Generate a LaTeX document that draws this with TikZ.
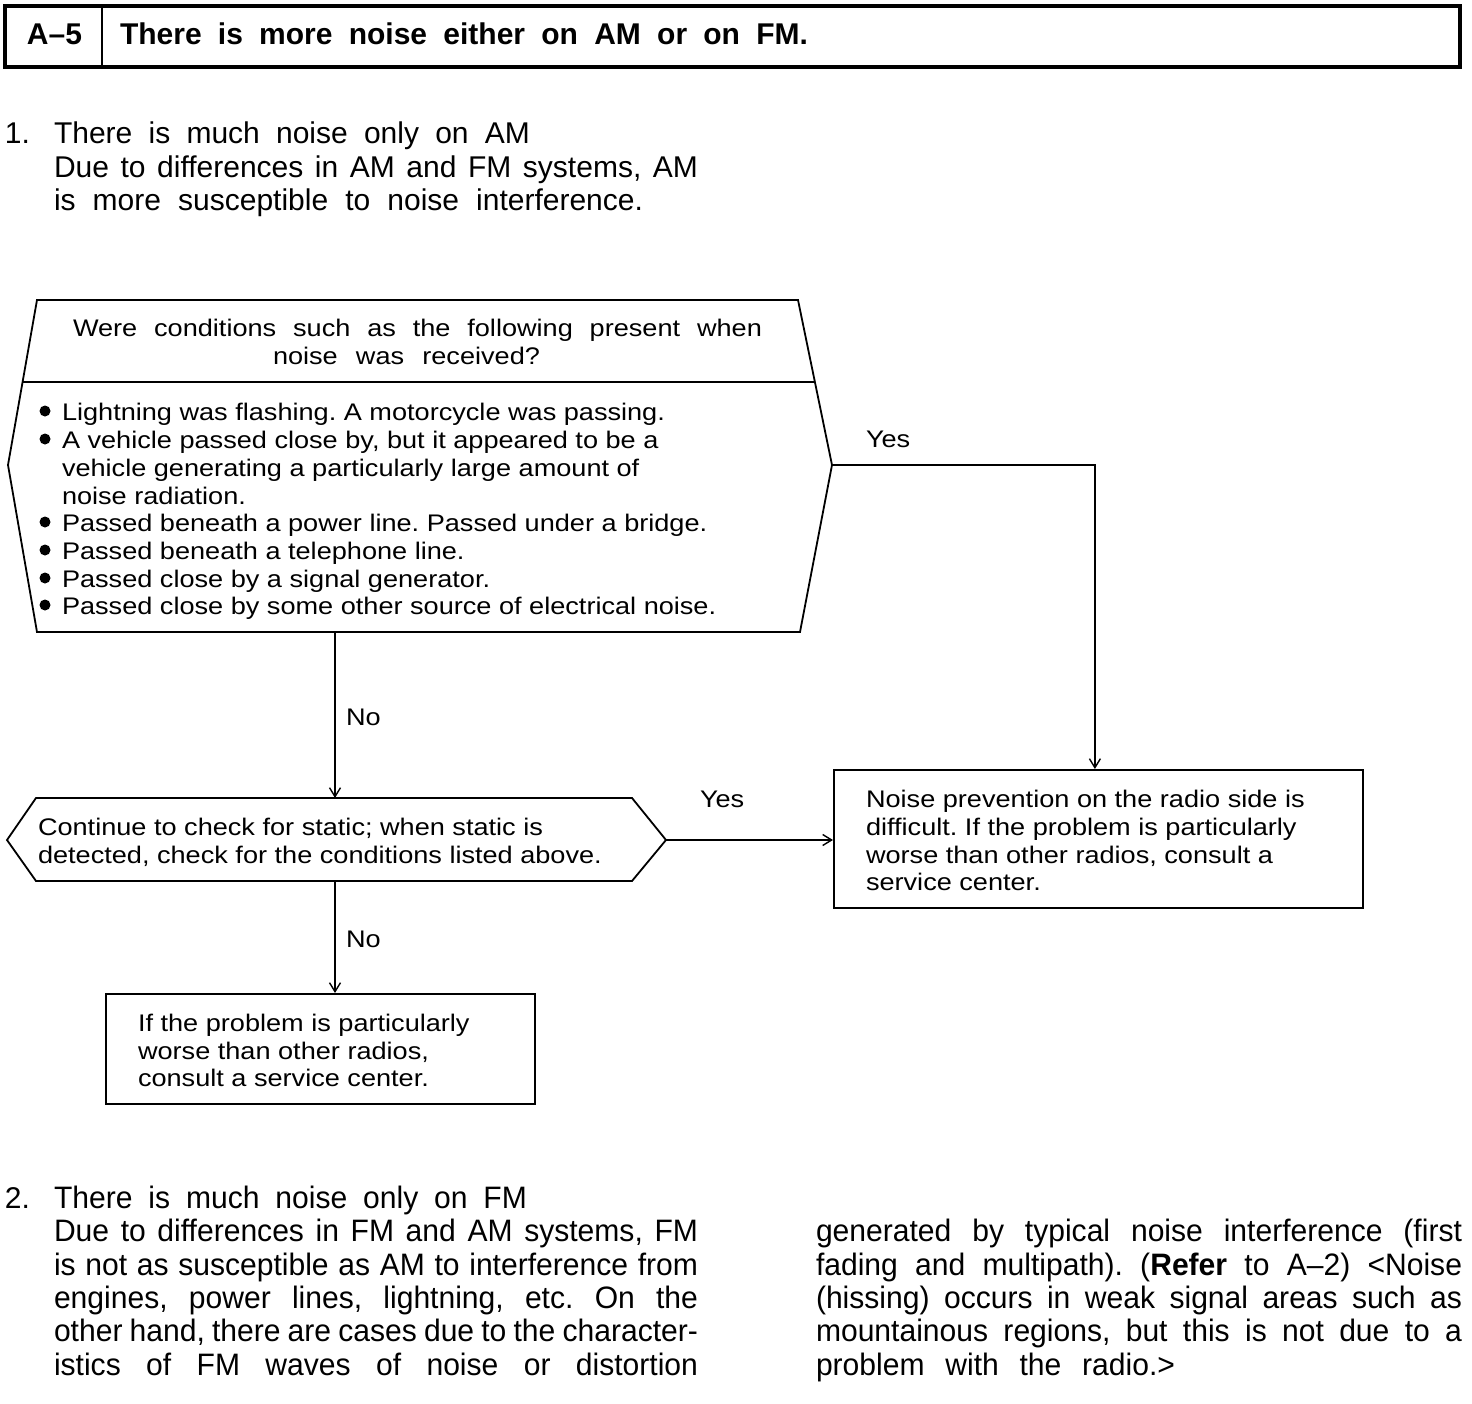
\documentclass[tikz,border=0pt]{standalone}
\usepackage{fontspec}
\setmainfont{Liberation Sans}
\newfontfamily\boxfont[FakeStretch=1.13]{Liberation Sans}
\newfontfamily\narrowfont[FakeStretch=0.97]{Liberation Sans}
\usetikzlibrary{arrows.meta,calc}
\frenchspacing
\tikzset{
  txt/.style={anchor=base west, inner sep=0pt, outer sep=0pt},
  body/.style={txt, font=\fontsize{30}{33}\selectfont},
  narrow/.style={txt, font=\narrowfont\fontsize{31}{33}\selectfont},
  boxt/.style={txt, font=\boxfont\fontsize{24}{28}\selectfont},
  hdr/.style={txt, font=\bfseries\fontsize{30}{33}\selectfont},
  shapeline/.style={draw, line width=1.8pt, line join=miter},
  conn/.style={line width=1.6pt, -{Straight Barb[length=9pt,width=11pt,line width=1.4pt]}},
  bul/.style={fill=black}
}
\begin{document}
\frenchspacing
\begin{tikzpicture}[x=1pt,y=-1pt]
\useasboundingbox (0,0) rectangle (1472,1404);
\fill[white] (0,0) rectangle (1472,1404);

% header
\draw[line width=3.5pt] (5,6) rectangle (1460,67);
\draw[line width=2.5pt] (102,6) -- (102,67);
\node[hdr] (hnum) at (27,45) {A–5};
\node[hdr] (htitle) at (120,45) {\makebox[688pt][s]{There is more noise either on AM or on FM.}};

% section 1
\node[body] (s1n) at (5,144) {1.};
\node[body] (s1a) at (54,144) {\makebox[476pt][s]{There is much noise only on AM}};
\node[body] (s1b) at (54,178) {\makebox[644pt][s]{Due to differences in AM and FM systems, AM}};
\node[body] (s1c) at (54,211) {\makebox[589pt][s]{is more susceptible to noise interference.}};

% question hexagon
\coordinate (q1tl) at (37,300);
\coordinate (q1tr) at (798,300);
\coordinate (q1r) at (832,465);
\coordinate (q1br) at (800,632);
\coordinate (q1bl) at (37,632);
\coordinate (q1l) at (8,465);
\draw[shapeline] (q1tl) -- (q1tr) -- (q1r) -- (q1br) -- (q1bl) -- (q1l) -- cycle;
\draw[line width=1.6pt] ($(q1tl)!0.497!(q1l)$) -- ($(q1tr)!0.497!(q1r)$);
\node[boxt] (tq1) at (73,337) {\makebox[689pt][s]{Were conditions such as the following present when}};
\node[boxt] (tq2) at (273,365) {\makebox[267pt][s]{noise was received?}};

\node[boxt] (tb1) at (62,420) {Lightning was flashing. A motorcycle was passing.};
\node[boxt] (tb2) at (62,448) {A vehicle passed close by, but it appeared to be a};
\node[boxt] (tb3) at (62,476) {vehicle generating a particularly large amount of};
\node[boxt] (tb4) at (62,504) {noise radiation.};
\node[boxt] (tb5) at (62,531) {Passed beneath a power line. Passed under a bridge.};
\node[boxt] (tb6) at (62,559) {Passed beneath a telephone line.};
\node[boxt] (tb7) at (62,587) {Passed close by a signal generator.};
\node[boxt] (tb8) at (62,614) {Passed close by some other source of electrical noise.};
\foreach \yy in {411,439,522,550,578,605} {\fill[bul] (45,\yy) circle (5.5pt);}

% second hexagon
\coordinate (q2tl) at (36,798);
\coordinate (q2tr) at (632,798);
\coordinate (q2r) at (666,840);
\coordinate (q2br) at (632,881);
\coordinate (q2bl) at (36,881);
\coordinate (q2l) at (7,840);
\coordinate (q2t) at (335,798);
\coordinate (q2b) at (335,881);
\coordinate (q1b) at (335,632);
\draw[shapeline] (q2tl) -- (q2tr) -- (q2r) -- (q2br) -- (q2bl) -- (q2l) -- cycle;
\node[boxt] (tc1) at (38,835) {Continue to check for static; when static is};
\node[boxt] (tc2) at (38,863) {detected, check for the conditions listed above.};

% result boxes
\node[shapeline, minimum width=529pt, minimum height=138pt, inner sep=0pt, anchor=north west] (r1) at (833,769) {};
\node[boxt] (tr1) at (866,807) {Noise prevention on the radio side is};
\node[boxt] (tr2) at (866,835) {difficult. If the problem is particularly};
\node[boxt] (tr3) at (866,863) {worse than other radios, consult a};
\node[boxt] (tr4) at (866,890) {service center.};

\node[shapeline, minimum width=429pt, minimum height=110pt, inner sep=0pt, anchor=north west] (r2) at (105,993) {};
\node[boxt] (tf1) at (138,1031) {If the problem is particularly};
\node[boxt] (tf2) at (138,1059) {worse than other radios,};
\node[boxt] (tf3) at (138,1086) {consult a service center.};

% connectors
\draw[conn] (q1b) -- (q2t);
\draw[conn] (q1r) -| ([xshift=-3.5pt]r1.north);
\draw[conn] (q2r) -- (q2r -| r1.west);
\draw[conn] (q2b) -- (q2b |- r2.north);

\node[boxt] (ly1) at (866,447) {Yes};
\node[boxt] (ln1) at (346,725) {No};
\node[boxt] (ly2) at (700,807) {Yes};
\node[boxt] (ln2) at (346,947) {No};

% section 2
\node[body] (s2n) at (5,1208) {2.};
\node[narrow] (s2a) at (54,1208) {\makebox[473pt][s]{There is much noise only on FM}};
\node[narrow] (s2b) at (54,1241) {\makebox[644pt][s]{Due to differences in FM and AM systems, FM}};
\node[narrow] (s2c) at (54,1275) {\makebox[644pt][s]{is not as susceptible as AM to interference from}};
\node[narrow] (s2d) at (54,1308) {\makebox[644pt][s]{engines, power lines, lightning, etc. On the}};
\node[narrow] (s2e) at (54,1341) {\makebox[644pt][s]{other hand, there are cases due to the character-}};
\node[narrow] (s2f) at (54,1375) {\makebox[644pt][s]{istics of FM waves of noise or distortion}};

\node[narrow] (s2g) at (816,1241) {\makebox[646pt][s]{generated by typical noise interference (first}};
\node[narrow] (s2h) at (816,1275) {\makebox[646pt][s]{fading and multipath). (\textbf{Refer} to A–2) <Noise}};
\node[narrow] (s2i) at (816,1308) {\makebox[646pt][s]{(hissing) occurs in weak signal areas such as}};
\node[narrow] (s2j) at (816,1341) {\makebox[646pt][s]{mountainous regions, but this is not due to a}};
\node[narrow] (s2k) at (816,1375) {\makebox[359pt][s]{problem with the radio.>}};
\end{tikzpicture}
\end{document}
